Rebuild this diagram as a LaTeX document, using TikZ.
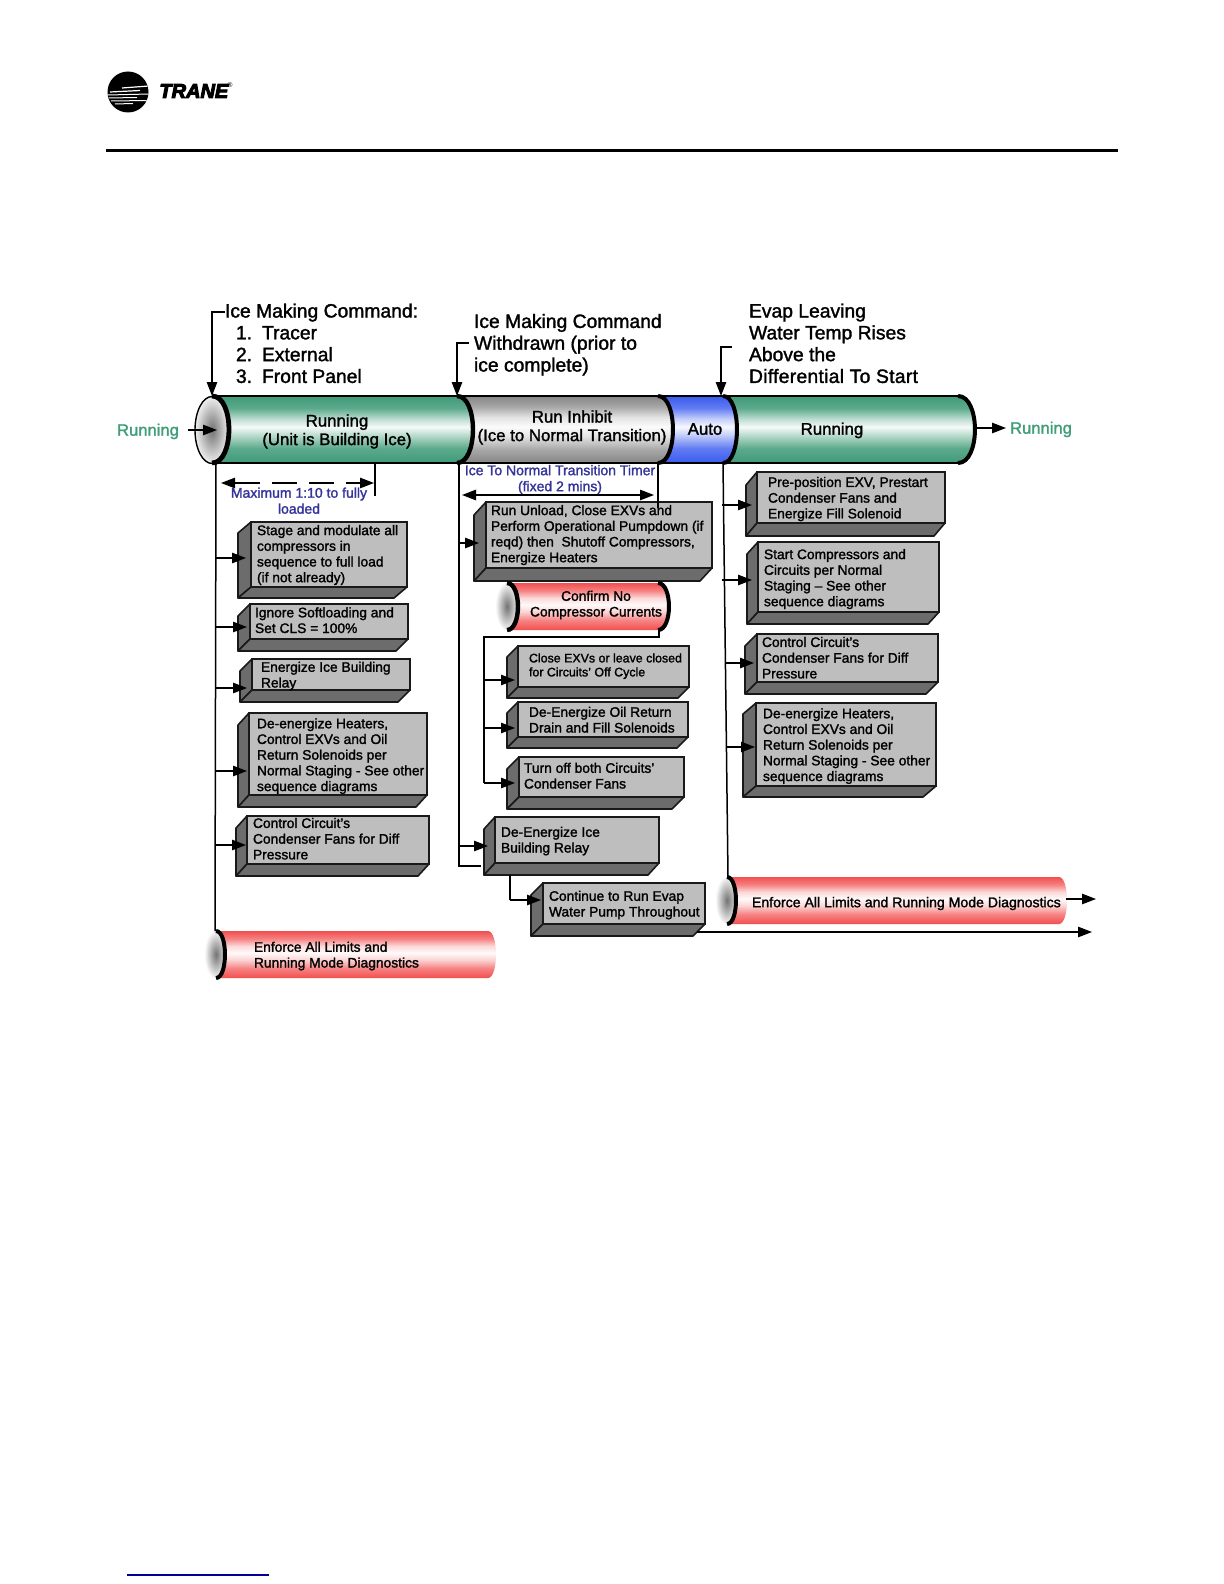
\documentclass[tikz,border=0pt]{standalone}
\usepackage{fontspec}
\setmainfont[FakeBold=1.6]{Liberation Sans}
\newfontfamily\logofont{Liberation Sans}
\usetikzlibrary{arrows.meta}
\definecolor{cg}{HTML}{3F9B77}
\definecolor{cb}{HTML}{3A5BEF}
\definecolor{cs}{HTML}{858585}
\definecolor{cr}{HTML}{F24F4F}
\definecolor{face}{HTML}{BEBEBE}
\definecolor{sidec}{HTML}{6C6C6C}
\definecolor{bluetxt}{HTML}{33339A}
\definecolor{greentxt}{HTML}{3F9E78}
\pgfdeclareverticalshading{cylgreen}{100bp}{color(0bp)=(cg); color(25bp)=(cg); color(36bp)=(cg!85!white); color(46bp)=(cg!35!white); color(52bp)=(cg!5!white); color(58bp)=(cg!35!white); color(66bp)=(cg!85!white); color(75bp)=(cg); color(100bp)=(cg)}
\pgfdeclareverticalshading{cylblue}{100bp}{color(0bp)=(cb); color(25bp)=(cb); color(36bp)=(cb!80!white); color(46bp)=(cb!30!white); color(52bp)=(cb!4!white); color(58bp)=(cb!30!white); color(66bp)=(cb!80!white); color(75bp)=(cb); color(100bp)=(cb)}
\pgfdeclareverticalshading{cylgray}{100bp}{color(0bp)=(cs); color(25bp)=(cs); color(35bp)=(cs!72!white); color(45bp)=(cs!22!white); color(52bp)=(cs!3!white); color(59bp)=(cs!22!white); color(67bp)=(cs!72!white); color(75bp)=(cs); color(100bp)=(cs)}
\pgfdeclareverticalshading{cylred}{100bp}{color(0bp)=(cr); color(25bp)=(cr); color(35bp)=(cr!72!white); color(45bp)=(cr!22!white); color(52bp)=(cr!3!white); color(59bp)=(cr!22!white); color(67bp)=(cr!72!white); color(75bp)=(cr); color(100bp)=(cr)}
\tikzset{
  conn/.style={line width=.75pt,black},
  arr/.style={conn,-{Triangle[length=7pt,width=5.2pt]},shorten >=1pt},
  dblarr/.style={conn,{Triangle[length=7pt,width=5.2pt]}-{Triangle[length=7pt,width=5.2pt]}},
  frontface/.style={draw=black!90,line width=.8pt,fill=face,inner sep=0,outer sep=0},
  sideface/.style={draw=black!90,line width=.8pt,fill=sidec,line join=round},
  txtbase/.style={inner sep=0,outer sep=0,yshift=-1pt,align=left,execute at begin node=\strut,execute at end node=\strut},
  lbl/.style={txtbase,anchor=west,font=\fontsize{6.9}{7.85}\selectfont},
  lblsmall/.style={txtbase,anchor=west,font=\fontsize{6.2}{7}\selectfont},
  title/.style={txtbase,anchor=west,font=\fontsize{9.65}{10.9}\selectfont},
  cyltxt/.style={txtbase,align=center,font=\fontsize{8.4}{9.3}\selectfont},
  bluelbl/.style={txtbase,align=center,text=bluetxt,font=\fontsize{7}{8}\selectfont},
  greenlbl/.style={txtbase,text=greentxt,font=\fontsize{8.3}{9.3}\selectfont},
}
% name, x1,y1,x2,y2, left, bottom
\newcommand{\trbox}[7]{%
  \draw[sideface] (#2,#3) -- (#6,{#3+#7-#5}) -- (#6,#7) -- (#2,#5) -- cycle;
  \draw[sideface] (#6,#7) -- ({#4-#2+#6},#7) -- (#4,#5) -- (#2,#5) -- cycle;
  \node[frontface,minimum width={(#4-#2)*0.5pt},minimum height={(#5-#3)*0.5pt}] (#1) at ({(#2+#4)/2},{(#3+#5)/2}) {};
}
% shading, xleft, xend, top, bottom, bulge
\newcommand{\cylsec}[6]{%
  \path[shading=#1] (#2,#4) -- (#3,#4) .. controls ({#3+1.33*#6},#4) and ({#3+1.33*#6},#5) .. (#3,#5) -- (#2,#5) -- cycle;
}
\newcommand{\cylarc}[6]{%
  \draw[line width=#6,line cap=butt] (#1,#2) .. controls ({#1+1.33*#5},#2) and ({#1+1.33*#5},#3) .. (#1,#3);
}
\begin{document}
\begin{tikzpicture}[x=0.5pt,y=-0.5pt]
\useasboundingbox (0,0) rectangle (1224,1584);
\fill[white] (0,0) rectangle (1224,1584);

% header
\fill[black] (128,92) circle (20.5);
\begin{scope}
\clip (128,92) circle (20.5);
\draw[white,line width=.6pt] (122,88) -- (149,86);
\draw[white,line width=.6pt] (110,92) -- (140,90.5);
\draw[white,line width=.5pt] (108,95) -- (149,94);
\draw[white,line width=.5pt] (109,98) -- (137,97.5);
\draw[white,line width=.5pt] (111,101) -- (148,100.5);
\draw[white,line width=.5pt] (115,104) -- (133,103.5);
\end{scope}
\node[inner sep=0,anchor=west] (logotxt) at (159,91) {\fontsize{10}{10}\selectfont\logofont\bfseries\itshape\addfontfeature{FakeBold=5}TRANE};
\node[inner sep=0,anchor=west] (logoreg) at (227,85) {\fontsize{3.5}{4}\selectfont\logofont ®};
\draw[line width=1.5pt] (106,150) -- (1118,150);
\draw[line width=.6pt,color=blue!60!black] (127,1575) -- (269,1575);

% main tube, right to left
\cylsec{cylgreen}{715}{958}{396}{463}{17}
\cylsec{cylblue}{650}{723}{396}{463}{14}
\cylsec{cylgray}{450}{658}{396}{463}{15}
\cylsec{cylgreen}{212}{457}{396}{463}{16}
\draw[line width=.9pt] (212,396) -- (958,396);
\draw[line width=.9pt] (212,463) -- (958,463);
\cylarc{958}{396}{463}{0}{17}{2pt}
\cylarc{723}{396}{463}{0}{14}{2pt}
\cylarc{658}{396}{463}{0}{15}{2pt}
\cylarc{457}{396}{463}{0}{16}{2.2pt}
\path[draw=black,line width=.7pt,inner color=black!55,outer color=black!6] (212,430) ellipse [x radius=17,y radius=33.5];
\cylarc{212}{396}{463}{0}{17}{2.4pt}

% coordinates on the main tube
\coordinate (t1) at (212,396);
\coordinate (t2) at (457,396);
\coordinate (t3) at (721,396);
\coordinate (b1) at (216,463);
\coordinate (b2) at (459,463);
\coordinate (b3) at (723,463);
\coordinate (bmax) at (375,463);
\coordinate (btimer) at (658,463);
\coordinate (tend) at (975,428);

% boxes
\trbox{s1}{251}{522}{407}{587}{238}{598}
\trbox{s2}{250}{604}{408}{639}{238}{651}
\trbox{s3}{252}{659}{410}{690}{240}{702}
\trbox{s4}{249}{713}{427}{795}{238}{807}
\trbox{s5}{247}{816}{429}{864}{236}{876}
\trbox{m1}{486}{502}{712}{568}{474}{581}
\trbox{m2}{518}{646}{689}{687}{507}{698}
\trbox{m3}{518}{702}{688}{737}{507}{748}
\trbox{m4}{519}{757}{684}{797}{507}{809}
\trbox{m5}{495}{817}{659}{863}{484}{875}
\trbox{m6}{543}{883}{705}{924}{531}{936}
\trbox{r1}{757}{472}{945}{523}{746}{536}
\trbox{r2}{758}{542}{939}{612}{747}{624}
\trbox{r3}{757}{634}{938}{682}{745}{694}
\trbox{r4}{756}{703}{936}{786}{743}{797}

% red tubes
\cylsec{cylred}{507}{658}{583}{630}{11}
\path[inner color=black!55,outer color=black!3] (507,606.5) ellipse [x radius=11,y radius=23.5];
\cylarc{507}{583}{630}{0}{11}{2.2pt}
\cylarc{658}{583}{630}{0}{11}{2pt}
\cylsec{cylred}{216}{488}{931}{978}{8}
\path[inner color=black!55,outer color=black!3] (216,954.5) ellipse [x radius=11,y radius=23.5];
\cylarc{216}{931}{978}{0}{9}{2pt}
\cylsec{cylred}{727}{1059}{877}{924}{8}
\path[inner color=black!55,outer color=black!3] (727,900.5) ellipse [x radius=11,y radius=23.5];
\cylarc{727}{877}{924}{0}{9}{2pt}
\coordinate (e1) at (215,931);
\coordinate (e2) at (728,877);
\coordinate (e2r) at (1066,899);
\coordinate (cnfb) at (659,630);
\coordinate (cnft) at (508,583);

% connectors: commands
\coordinate (c1) at (225,312);
\coordinate (c2) at (469,343);
\coordinate (c3) at (732,347);
\draw[arr,shorten >=0pt] (c1) -| (t1);
\draw[arr,shorten >=0pt] (c2) -| (t2);
\draw[arr,shorten >=0pt] (c3) -| (t3);
\coordinate (runin) at (188,430);
\coordinate (runtip) at (217,430);
\draw[arr,shorten >=0pt] (runin) -- (runtip);
\coordinate (runout) at (1006,428);
\draw[arr,shorten >=0pt] (tend) -- (runout);

% left trunk
\draw[conn] (b1) -- (e1);
\coordinate (a1) at (216,558);
\coordinate (a2) at (216,627);
\coordinate (a3) at (216,688);
\coordinate (a4) at (216,771);
\coordinate (a5) at (216,845);
\draw[arr,shorten >=2.5pt] (a1) -- (a1 -| s1.west);
\draw[arr,shorten >=1.5pt] (a2) -- (a2 -| s2.west);
\draw[arr,shorten >=2.5pt] (a3) -- (a3 -| s3.west);
\draw[arr,shorten >=1pt] (a4) -- (a4 -| s4.west);
\draw[arr,shorten >=.5pt] (a5) -- (a5 -| s5.west);
\coordinate (maxend) at (375,496);
\draw[conn] (bmax) -- (maxend);
\coordinate (dl) at (221,483);
\coordinate (dr) at (374,483);
\draw[dblarr,dash pattern=on 12.5pt off 6pt] (dl) -- (dr);

% middle trunk
\coordinate (mc) at (459,866);
\coordinate (mce) at (481,866);
\draw[conn] (b2) -- (mc) -- (mce);
\coordinate (d1) at (459,543);
\draw[arr,shorten >=3.5pt] (d1) -- (d1 -| m1.west);
\coordinate (d2) at (459,846);
\draw[arr,shorten >=3.5pt] (d2) -- (d2 -| m5.west);
\coordinate (tl) at (462,495);
\coordinate (tr) at (654,495);
\draw[dblarr] (tl) -- (tr);
\coordinate (timerend) at (658,508);
\draw[conn] (btimer) -- (timerend);
\coordinate (m1tick) at (508,581);
\draw[conn] (m1tick) -- (cnft);
\coordinate (k1) at (659,637);
\coordinate (k2) at (484,637);
\coordinate (k3) at (484,680);
\coordinate (k4) at (484,728);
\coordinate (k5) at (484,783);
\draw[conn] (cnfb) -- (k1) -- (k2) -- (k5);
\draw[arr,shorten >=1.5pt] (k3) -- (k3 -| m2.west);
\draw[arr,shorten >=1.5pt] (k4) -- (k4 -| m3.west);
\draw[arr,shorten >=2pt] (k5) -- (k5 -| m4.west);
\coordinate (p0) at (510,875);
\coordinate (p1) at (510,900);
\draw[conn] (p0) -- (p1);
\draw[arr,shorten >=1pt] (p1) -- (p1 -| m6.west);
\coordinate (q0) at (697,932);
\coordinate (q1) at (1092,932);
\draw[arr,shorten >=0pt] (q0) -- (q1);
\coordinate (q2) at (1096,899);
\draw[arr,shorten >=0pt] (e2r) -- (q2);

% right trunk
\draw[conn] (b3) -- (e2);
\coordinate (h1) at (722,505);
\coordinate (h2) at (722,580);
\coordinate (h3) at (725,663);
\coordinate (h4) at (726,747);
\draw[arr,shorten >=2.5pt] (h1) -- (h1 -| r1.west);
\draw[arr,shorten >=3pt] (h2) -- (h2 -| r2.west);
\draw[arr,shorten >=1.5pt] (h3) -- (h3 -| r3.west);
\draw[arr,shorten >=.5pt] (h4) -- (h4 -| r4.west);

% titles
\node[title] (ttl1) at (225,344.5) {Ice Making Command:\\[0pt]\hspace*{5.5pt}\makebox[13pt][l]{1.}Tracer\\\hspace*{5.5pt}\makebox[13pt][l]{2.}External\\\hspace*{5.5pt}\makebox[13pt][l]{3.}Front Panel};
\node[title] (ttl2) at (474,344) {Ice Making Command\\Withdrawn (prior to\\ice complete)};
\node[title] (ttl3) at (749,344.5) {Evap Leaving\\Water Temp Rises\\Above the\\{\addfontfeature{LetterSpace=1.5}Differential To Start}};

% tube labels
\node[greenlbl] (runl) at (148,430) {Running};
\node[greenlbl] (runr) at (1041,428) {Running};
\node[cyltxt] (tx1) at (337,430.5) {Running\\(Unit is Building Ice)};
\node[cyltxt] (tx2) at (572,426.5) {Run Inhibit\\(Ice to Normal Transition)};
\node[cyltxt] (tx3) at (705,429) {Auto};
\node[cyltxt] (tx4) at (832,429) {Running};
\node[bluelbl] (bl1) at (299,501) {Maximum 1:10 to fully\\loaded};
\node[bluelbl] (bl2) at (560,478.5) {Ice To Normal Transition Timer\\(fixed 2 mins)};

% box labels
\node[lbl] (ls1) at (257,554) {Stage and modulate all\\compressors in\\sequence to full load\\(if not already)};
\node[lbl] (ls2) at (255,620.5) {Ignore Softloading and\\Set CLS = 100\%};
\node[lbl] (ls3) at (261,675) {Energize Ice Building\\Relay};
\node[lbl] (ls4) at (257,755) {De-energize Heaters,\\Control EXVs and Oil\\Return Solenoids per\\Normal Staging - See other\\sequence diagrams};
\node[lbl] (ls5) at (253,839) {Control Circuit's\\Condenser Fans for Diff\\Pressure};
\node[lbl] (lm1) at (491,534) {Run Unload, Close EXVs and\\Perform Operational Pumpdown (if\\reqd) then\ \ Shutoff Compressors,\\Energize Heaters};
\node[lbl,align=center,anchor=center] (lcn) at (596,604) {Confirm No\\Compressor Currents};
\node[lblsmall] (lm2) at (529,665) {Close EXVs or leave closed\\for Circuits' Off Cycle};
\node[lbl] (lm3) at (529,720) {De-Energize Oil Return\\Drain and Fill Solenoids};
\node[lbl] (lm4) at (524,776) {Turn off both Circuits'\\Condenser Fans};
\node[lbl] (lm5) at (501,840) {De-Energize Ice\\Building Relay};
\node[lbl] (lm6) at (549,904) {Continue to Run Evap\\Water Pump Throughout};
\node[lbl] (le1) at (254,955) {Enforce All Limits and\\Running Mode Diagnostics};
\node[lbl,font=\fontsize{7.05}{8}\selectfont] (le2) at (752,902) {Enforce All Limits and Running Mode Diagnostics};
\node[lbl] (lr1) at (768,498) {Pre-position EXV, Prestart\\Condenser Fans and\\Energize Fill Solenoid};
\node[lbl] (lr2) at (764,578) {Start Compressors and\\Circuits per Normal\\Staging – See other\\sequence diagrams};
\node[lbl] (lr3) at (762,658) {Control Circuit's\\Condenser Fans for Diff\\Pressure};
\node[lbl] (lr4) at (763,745) {De-energize Heaters,\\Control EXVs and Oil\\Return Solenoids per\\Normal Staging - See other\\sequence diagrams};
\end{tikzpicture}
\end{document}
